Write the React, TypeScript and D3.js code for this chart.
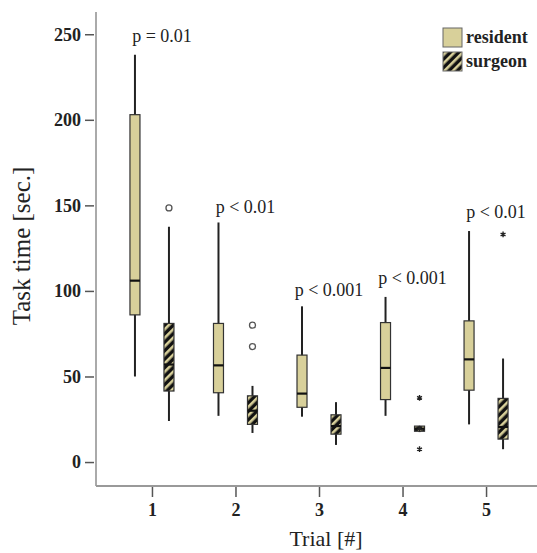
import React, { useEffect, useRef } from 'react'
import * as d3 from 'd3'

const trials = [1, 2, 3, 4, 5]
const yTicks = [0, 50, 100, 150, 200, 250]

// resident five-number summaries per trial
const residentMin = [50, 27, 26.5, 27, 22]
const residentQ1 = [86, 40.5, 32, 36.5, 42]
const residentMedian = [106, 56.5, 40, 55, 60]
const residentQ3 = [203, 81, 62.5, 81.5, 82.5]
const residentMax = [238, 140, 91, 96.5, 135]

// surgeon five-number summaries per trial
const surgeonMin = [24, 17, 10, 17.5, 7.5]
const surgeonQ1 = [41.5, 22, 16.3, 18, 13.4]
const surgeonMedian = [57, 30, 21, 19.5, 20.5]
const surgeonQ3 = [81, 38.7, 27.6, 21, 37.2]
const surgeonMax = [137.5, 44.5, 35, 21, 60.5]

// outliers (circles) and extremes (stars) for surgeons
const outlierTrial = [1, 2, 2]
const outlierValue = [148.5, 80, 67.5]
const extremeTrial = [4, 4, 4, 5]
const extremeValue = [37.5, 19.5, 7.5, 133]

const pLabels = ['p = 0.01', 'p < 0.01', 'p < 0.001', 'p < 0.001', 'p < 0.01']
const pLabelY = [249, 149, 100.5, 107.5, 146]

const groups = ['resident', 'surgeon']

const W = 537
const H = 553
const khaki = '#d8d09a'
const serif = '"Liberation Serif", "Times New Roman", serif'

function App () {
  const ref = useRef<SVGSVGElement>(null)

  useEffect(() => {
    const svg = d3.select(ref.current)
    svg.selectAll('*').remove()

    const x = d3.scaleLinear().domain([0.33, 5.61]).range([96, 537])
    const y = d3.scaleLinear().domain([-14, 263]).range([486, 12])
    const off = 17
    const bw = 10

    const defs = svg.append('defs')
    const pat = defs.append('pattern')
      .attr('id', 'hatch')
      .attr('patternUnits', 'userSpaceOnUse')
      .attr('width', 6)
      .attr('height', 6)
      .attr('patternTransform', 'rotate(-45)')
    pat.append('rect').attr('width', 6).attr('height', 6).attr('fill', '#111')
    pat.append('rect').attr('width', 6).attr('height', 2.6).attr('fill', khaki)

    // axes
    const yAxis = svg.append('g')
      .attr('transform', 'translate(96,0)')
      .call(d3.axisLeft(y).tickValues(yTicks).tickSize(11).tickPadding(4))
    yAxis.select('.domain').remove()
    yAxis.attr('font-size', 18).attr('font-family', serif)
    yAxis.selectAll('.tick line').attr('stroke', '#555').attr('stroke-width', 1.5)
      .attr('x1', -2)
    yAxis.selectAll('.tick text')
      .style('font-size', '18px').attr('font-weight', 'bold')
      .attr('fill', '#222')

    const xAxis = svg.append('g')
      .attr('transform', 'translate(0,486)')
      .call(d3.axisBottom(x).tickValues(trials).tickSize(11).tickPadding(6).tickFormat(d3.format('d')))
    xAxis.select('.domain').remove()
    xAxis.attr('font-size', 18).attr('font-family', serif)
    xAxis.selectAll('.tick line').attr('stroke', '#555').attr('stroke-width', 1.5)
    xAxis.selectAll('.tick text')
      .style('font-size', '18px').attr('font-weight', 'bold')
      .attr('fill', '#222')

    svg.append('line')
      .attr('x1', 96).attr('x2', 96).attr('y1', 12).attr('y2', 486)
      .attr('stroke', '#aaa').attr('stroke-width', 2)
    svg.append('line')
      .attr('x1', 96).attr('x2', 537).attr('y1', 486).attr('y2', 486)
      .attr('stroke', '#999').attr('stroke-width', 2)

    svg.append('text')
      .attr('x', 326).attr('y', 546)
      .attr('text-anchor', 'middle')
      .attr('font-family', serif).attr('font-size', 22).attr('fill', '#222')
      .text('Trial [#]')
    svg.append('text')
      .attr('transform', 'translate(30,246) rotate(-90)')
      .attr('text-anchor', 'middle')
      .attr('font-family', serif).attr('font-size', 25).attr('fill', '#222')
      .text('Task time [sec.]')

    const series = [
      { min: residentMin, q1: residentQ1, med: residentMedian, q3: residentQ3, max: residentMax, dx: -off, fill: khaki },
      { min: surgeonMin, q1: surgeonQ1, med: surgeonMedian, q3: surgeonQ3, max: surgeonMax, dx: off, fill: 'url(#hatch)' }
    ]

    series.forEach((s) => {
      const g = svg.append('g')
      trials.forEach((t, i) => {
        const cx = x(t) + s.dx
        g.append('line')
          .attr('x1', cx).attr('x2', cx)
          .attr('y1', y(s.max[i])).attr('y2', y(s.min[i]))
          .attr('stroke', '#222').attr('stroke-width', 2)
        g.append('rect')
          .attr('x', cx - bw / 2).attr('width', bw)
          .attr('y', y(s.q3[i])).attr('height', Math.max(1, y(s.q1[i]) - y(s.q3[i])))
          .attr('fill', s.fill)
          .attr('stroke', '#333').attr('stroke-width', 1.2)
        g.append('line')
          .attr('x1', cx - bw / 2).attr('x2', cx + bw / 2)
          .attr('y1', y(s.med[i])).attr('y2', y(s.med[i]))
          .attr('stroke', '#111').attr('stroke-width', 2.2)
      })
    })

    // outliers
    svg.append('g').selectAll('circle')
      .data(outlierTrial)
      .join('circle')
      .attr('cx', (d) => x(d) + off)
      .attr('cy', (d, i) => y(outlierValue[i]))
      .attr('r', 3)
      .attr('fill', 'white')
      .attr('stroke', '#555')
      .attr('stroke-width', 1.3)

    const star = d3.symbol().type(d3.symbolAsterisk).size(22)
    svg.append('g').selectAll('path')
      .data(extremeTrial)
      .join('path')
      .attr('transform', (d, i) => `translate(${x(d) + off},${y(extremeValue[i])})`)
      .attr('d', star)
      .attr('stroke', '#222')
      .attr('stroke-width', 1.4)
      .attr('fill', 'none')

    // p-value labels
    svg.append('g').selectAll('text')
      .data(pLabels)
      .join('text')
      .attr('x', (d, i) => x(trials[i]) + 10)
      .attr('y', (d, i) => y(pLabelY[i]) + 6)
      .attr('text-anchor', 'middle')
      .attr('font-family', serif).attr('font-size', 18).attr('fill', '#222')
      .text((d) => d)

    // legend
    const lg = svg.append('g').attr('transform', 'translate(443,28)')
    groups.forEach((name, i) => {
      lg.append('rect')
        .attr('x', 0).attr('y', i * 24)
        .attr('width', 19).attr('height', 19)
        .attr('fill', i === 0 ? khaki : 'url(#hatch)')
        .attr('stroke', '#666').attr('stroke-width', 1)
      lg.append('text')
        .attr('x', 23).attr('y', i * 24 + 15)
        .attr('font-family', serif).attr('font-size', 18).attr('font-weight', 'bold')
        .attr('fill', '#222')
        .text(name)
    })
  }, [])

  return (
    <div style={{ position: 'absolute', left: 0, top: 0 }}>
      <svg ref={ref} width={W} height={H} style={{ display: 'block', background: 'white' }} />
    </div>
  )
}

export default App
